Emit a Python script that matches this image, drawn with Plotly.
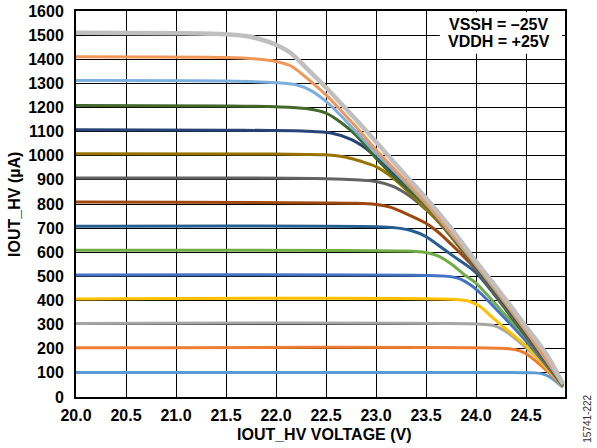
import plotly.graph_objects as go

# Series: IOUT_HV current (µA) vs IOUT_HV voltage (V), one per programmed current
series_names = ["100µA", "200µA", "300µA", "400µA", "500µA", "600µA", "700µA", "800µA",
                "900µA", "1000µA", "1100µA", "1200µA", "1300µA", "1400µA", "1500µA"]
series_colors = ["#5B9BD5", "#ED7D31", "#A5A5A5", "#FFC000", "#4472C4", "#70AD47", "#255E91",
                 "#9E480E", "#636363", "#997300", "#264478", "#43682B", "#7CAFDD", "#F1975A", "#BFBFBF"]

v_100 = [20.0, 24.5, 24.6, 24.68, 24.75, 24.87]
i_100 = [102, 101, 100, 94, 80, 40]
v_200 = [20.0, 24.3, 24.4, 24.5, 24.61, 24.74, 24.87]
i_200 = [204, 201, 196, 180, 145, 97, 42]
v_300 = [20.0, 24.05, 24.17, 24.27, 24.37, 24.5, 24.67, 24.87]
i_300 = [305, 302, 297, 279, 250, 205, 140, 43]
v_400 = [20.0, 23.8, 23.94, 24.04, 24.17, 24.27, 24.5, 24.87]
i_400 = [406, 404, 396, 375, 328, 292, 212, 44]
v_500 = [20.0, 23.5, 23.72, 23.85, 23.95, 24.05, 24.2, 24.5, 24.87]
i_500 = [506, 504, 500, 488, 463, 428, 365, 232, 45]
v_600 = [20.0, 23.3, 23.5, 23.62, 23.75, 23.88, 24.0, 24.25, 24.5, 24.87]
i_600 = [608, 605, 599, 585, 552, 508, 472, 360, 245, 46]
v_700 = [20.0, 23.0, 23.2, 23.35, 23.5, 23.62, 23.78, 24.0, 24.5, 24.87]
i_700 = [708, 706, 701, 690, 665, 630, 582, 515, 250, 47]
v_800 = [20.0, 22.8, 23.0, 23.15, 23.3, 23.5, 23.62, 23.78, 24.0, 24.5, 24.87]
i_800 = [808, 803, 798, 786, 760, 720, 684, 622, 528, 255, 48]
v_900 = [20.0, 22.5, 22.84, 23.0, 23.17, 23.34, 23.5, 23.62, 24.0, 24.5, 24.87]
i_900 = [908, 905, 899, 893, 873, 832, 777, 730, 533, 258, 48]
v_1000 = [20.0, 22.0, 22.5, 22.7, 22.85, 23.0, 23.17, 23.34, 23.5, 23.67, 24.0, 24.5, 24.87]
i_1000 = [1008, 1007, 1004, 994, 977, 955, 908, 845, 780, 705, 537, 262, 50]
v_1100 = [20.0, 21.5, 22.3, 22.55, 22.75, 22.9, 23.05, 23.2, 23.5, 24.0, 24.5, 24.87]
i_1100 = [1108, 1106, 1102, 1094, 1068, 1030, 975, 915, 800, 540, 265, 50]
v_1200 = [20.0, 21.5, 22.0, 22.3, 22.5, 22.65, 22.8, 23.0, 23.2, 23.5, 24.0, 24.5, 24.87]
i_1200 = [1208, 1206, 1203, 1196, 1177, 1138, 1085, 990, 905, 795, 542, 268, 50]
v_1300 = [20.0, 21.5, 22.0, 22.2, 22.35, 22.5, 22.64, 22.8, 23.0, 23.5, 24.0, 24.5, 24.87]
i_1300 = [1312, 1310, 1303, 1294, 1270, 1225, 1170, 1100, 1012, 800, 546, 272, 50]
v_1400 = [20.0, 21.5, 21.8, 22.0, 22.15, 22.3, 22.5, 22.64, 22.8, 23.0, 23.5, 24.0, 24.5, 24.87]
i_1400 = [1410, 1407, 1401, 1391, 1372, 1325, 1252, 1192, 1120, 1025, 805, 550, 276, 52]
v_1500 = [20.0, 21.0, 21.5, 21.7, 21.85, 22.0, 22.15, 22.3, 22.5, 22.75, 23.0, 23.25, 23.5,
          23.75, 24.0, 24.25, 24.5, 24.7, 24.87]
i_1500 = [1510, 1508, 1504, 1496, 1482, 1460, 1425, 1365, 1283, 1172, 1058, 940, 825,
          700, 562, 430, 292, 180, 55]

series_v = [v_100, v_200, v_300, v_400, v_500, v_600, v_700, v_800,
            v_900, v_1000, v_1100, v_1200, v_1300, v_1400, v_1500]
series_i = [i_100, i_200, i_300, i_400, i_500, i_600, i_700, i_800,
            i_900, i_1000, i_1100, i_1200, i_1300, i_1400, i_1500]

x_ticks = [20.0, 20.5, 21.0, 21.5, 22.0, 22.5, 23.0, 23.5, 24.0, 24.5]
y_ticks = list(range(0, 1700, 100))

FONT = "Liberation Sans, Arial, sans-serif"
BOLD16 = dict(family=FONT, size=16, color="black", weight="bold")

fig = go.Figure()
for name, color, vx, iy in zip(series_names, series_colors, series_v, series_i):
    fig.add_trace(go.Scatter(
        x=vx, y=iy, mode="lines", name=name, hoverinfo="skip",
        line=dict(color=color, width=4.5 if name == "1500µA" else 3, shape="spline", smoothing=0.8),
    ))

fig.update_layout(
    width=597, height=448,
    margin=dict(l=76, r=32, t=11, b=51),
    paper_bgcolor="white", plot_bgcolor="white",
    showlegend=False,
    font=dict(family=FONT, size=16, color="black"),
    xaxis=dict(
        range=[20.0, 24.89], tickvals=x_ticks, tickformat=".1f",
        showgrid=True, gridcolor="black", gridwidth=1,
        showline=True, linecolor="black", linewidth=2, mirror=True,
        ticks="", ticklabelstandoff=3, zeroline=False, automargin=False,
        tickfont=BOLD16,
    ),
    yaxis=dict(
        range=[0, 1600], tickvals=y_ticks,
        showgrid=True, gridcolor="black", gridwidth=1,
        showline=True, linecolor="black", linewidth=2, mirror=True,
        ticks="", ticklabelstandoff=7, zeroline=False, automargin=False,
        tickfont=BOLD16,
    ),
)

# axis titles
fig.add_annotation(text="IOUT_HV VOLTAGE (V)", xref="paper", yref="paper", x=0.509, y=-0.096,
                   showarrow=False, xanchor="center", yanchor="middle", font=BOLD16)
fig.add_annotation(text="IOUT_HV (µA)", xref="paper", yref="paper", x=-0.127, y=0.5,
                   textangle=-90, showarrow=False, xanchor="center", yanchor="middle", font=BOLD16)

# white box behind the supply annotation
fig.add_shape(type="rect", xref="paper", yref="paper", x0=0.744, x1=0.994, y0=0.889, y1=0.997,
              fillcolor="white", line=dict(width=0), layer="above")
fig.add_annotation(text="VSSH = \u201325V", xref="paper", yref="paper", x=0.865, y=0.964,
                   showarrow=False, xanchor="center", yanchor="middle", font=BOLD16)
fig.add_annotation(text="VDDH = +25V", xref="paper", yref="paper", x=0.865, y=0.920,
                   showarrow=False, xanchor="center", yanchor="middle", font=BOLD16)
fig.add_annotation(text="15741-222", xref="paper", yref="paper", x=1.046, y=-0.055,
                   textangle=-90, showarrow=False, xanchor="center", yanchor="middle",
                   font=dict(family=FONT, size=10, color="#333333"))

# remove the browser's default 8px page margin so the figure sits at the window origin
fig.write_html("out.html",
               config={"displayModeBar": False, "staticPlot": True},
               post_script="document.body.style.margin='0';document.body.style.overflow='hidden';")
